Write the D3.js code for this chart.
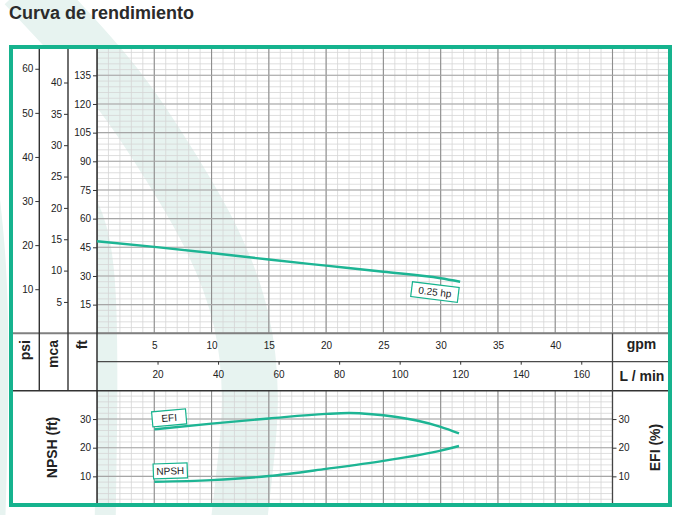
<!DOCTYPE html>
<html>
<head>
<meta charset="utf-8">
<script src="https://cdn.jsdelivr.net/npm/d3@7"></script>
<style>
  body { margin: 0; background: #fff; }
  text { font-family: "Liberation Sans", Arial, sans-serif; }
</style>
</head>
<body>
<div id="chart"></div>
<script>
// tick labels
var gpmTicks = [5, 10, 15, 20, 25, 30, 35, 40];
var lminTicks = [20, 40, 60, 80, 100, 120, 140, 160];
var psiTicks = [10, 20, 30, 40, 50, 60];
var mcaTicks = [5, 10, 15, 20, 25, 30, 35, 40];
var ftTicks = [15, 30, 45, 60, 75, 90, 105, 120, 135];
var lowTicks = [10, 20, 30];

// curves
var headGpm = [0, 5, 10, 15, 20, 25, 30, 31.7];
var headFt = [48.2, 45.2, 42.0, 38.6, 35.4, 32.2, 28.8, 27.0];
var efiGpm = [5, 10, 15, 20, 22, 24, 26, 28, 30, 31.6];
var efiPct = [26.4, 28.4, 30.2, 31.8, 32.1, 31.7, 30.8, 29.4, 27.3, 25];
var npshGpm = [5, 10, 15, 20, 25, 30, 31.6];
var npshFt = [8.1, 8.7, 10.1, 12.6, 15.4, 19.0, 20.6];

// labels on the curves
var labels = [
  {text: "0.25 hp", gpm: 29.5, val: 21.6, w: 47, angle: 7, panel: "top"},
  {text: "EFI", gpm: 6.3, val: 30.4, w: 34, angle: -5, panel: "low"},
  {text: "NPSH", gpm: 6.4, val: 11.9, w: 34, angle: -2, panel: "low"}
];

var W = 681, H = 515;
var green = "#16b38e";
var curveColor = "#1db594";

var svg = d3.select("#chart").append("svg")
    .attr("width", W)
    .attr("height", H);

// scales (psi / mca / ft share the same pixel span)
var x = d3.scaleLinear().domain([0, 45]).range([97, 612.5]);
var xL = d3.scaleLinear().domain([0, 45 * 3.785]).range([97, 612.5]);
var yFt = d3.scaleLinear().domain([0, 150]).range([333.3, 46.65]);
var yPsi = d3.scaleLinear().domain([0, 150 / 2.307]).range([333.3, 46.65]);
var yMca = d3.scaleLinear().domain([0, 150 / 3.281]).range([333.3, 46.65]);
var yLow = d3.scaleLinear().domain([0, 40]).range([505, 390.4]);

// watermark swooshes
var band = d3.line().curve(d3.curveBasis);
var wm = svg.append("g").attr("fill", "none").attr("stroke", "#e7f3f0");
wm.append("path")
    .attr("d", band([[25, -15], [75, 38], [125, 95], [170, 165], [215, 240], [245, 320], [252, 400], [246, 460], [238, 530]]))
    .attr("stroke-width", 56);
wm.append("path")
    .attr("d", band([[70, 170], [100, 225], [107, 300], [107, 420], [105, 530]]))
    .attr("stroke-width", 21);
wm.append("path")
    .attr("d", band([[-10, 160], [3, 260], [4, 400], [0, 530]]))
    .attr("stroke-width", 10);

// white cover for the axis columns
svg.append("rect").attr("x", 11).attr("y", 49).attr("width", 86).attr("height", 455).attr("fill", "#fff");

// clip paths
var defs = svg.append("defs");
defs.append("clipPath").attr("id", "clipTop").append("rect")
    .attr("x", 97).attr("y", 49).attr("width", 572).attr("height", 284.3);
defs.append("clipPath").attr("id", "clipLow").append("rect")
    .attr("x", 97).attr("y", 391).attr("width", 515.5).attr("height", 113);

// top grid
var gTop = svg.append("g").attr("clip-path", "url(#clipTop)");
gTop.selectAll(".vmin").data(d3.range(0, 51, 1)).enter().append("line")
    .attr("x1", x).attr("x2", x).attr("y1", 40).attr("y2", 340)
    .attr("stroke", "#d6d6d6").attr("stroke-width", 0.8);
gTop.selectAll(".hmin").data(d3.range(0, 151, 3)).enter().append("line")
    .attr("x1", 90).attr("x2", 680).attr("y1", yFt).attr("y2", yFt)
    .attr("stroke", "#d6d6d6").attr("stroke-width", 0.8);
gTop.selectAll(".vmaj").data(d3.range(0, 51, 5)).enter().append("line")
    .attr("x1", x).attr("x2", x).attr("y1", 40).attr("y2", 340)
    .attr("stroke", "#8e8e8e").attr("stroke-width", 1.1);
gTop.selectAll(".hmaj").data(d3.range(0, 151, 15)).enter().append("line")
    .attr("x1", 90).attr("x2", 680).attr("y1", yFt).attr("y2", yFt)
    .attr("stroke", "#a6a6a6").attr("stroke-width", 1.1);

// low grid
var gLow = svg.append("g").attr("clip-path", "url(#clipLow)");
gLow.selectAll(".vmin").data(d3.range(0, 46, 1)).enter().append("line")
    .attr("x1", x).attr("x2", x).attr("y1", 385).attr("y2", 510)
    .attr("stroke", "#d6d6d6").attr("stroke-width", 0.8);
gLow.selectAll(".hmin").data(d3.range(0, 41, 2)).enter().append("line")
    .attr("x1", 90).attr("x2", 620).attr("y1", yLow).attr("y2", yLow)
    .attr("stroke", "#d6d6d6").attr("stroke-width", 0.8);
gLow.selectAll(".vmaj").data(d3.range(0, 46, 5)).enter().append("line")
    .attr("x1", x).attr("x2", x).attr("y1", 385).attr("y2", 510)
    .attr("stroke", "#8e8e8e").attr("stroke-width", 1.1);
gLow.selectAll(".hmaj").data(d3.range(0, 41, 10)).enter().append("line")
    .attr("x1", 90).attr("x2", 620).attr("y1", yLow).attr("y2", yLow)
    .attr("stroke", "#a6a6a6").attr("stroke-width", 1.1);

// separator lines
var sep = svg.append("g");
sep.append("line").attr("x1", 11).attr("x2", 669).attr("y1", 333.3).attr("y2", 333.3)
    .attr("stroke", "#808080").attr("stroke-width", 2);
sep.append("line").attr("x1", 97).attr("x2", 669).attr("y1", 361.7).attr("y2", 361.7)
    .attr("stroke", "#4a4a4a").attr("stroke-width", 1.2);
sep.append("line").attr("x1", 11).attr("x2", 669).attr("y1", 390.7).attr("y2", 390.7)
    .attr("stroke", "#333").attr("stroke-width", 1.5);
sep.append("line").attr("x1", 39.3).attr("x2", 39.3).attr("y1", 49).attr("y2", 390.7)
    .attr("stroke", "#333").attr("stroke-width", 1.4);
sep.append("line").attr("x1", 68).attr("x2", 68).attr("y1", 49).attr("y2", 390.7)
    .attr("stroke", "#333").attr("stroke-width", 1.4);
sep.append("line").attr("x1", 97).attr("x2", 97).attr("y1", 49).attr("y2", 504)
    .attr("stroke", "#222").attr("stroke-width", 1.4);
sep.append("line").attr("x1", 612.5).attr("x2", 612.5).attr("y1", 333.3).attr("y2", 504)
    .attr("stroke", "#444").attr("stroke-width", 1.3);

// axes
function styleAxis(g) {
  g.select(".domain").remove();
  g.selectAll("line").attr("stroke", "#333");
  g.selectAll("text").attr("font-size", "10px").attr("fill", "#222")
    .style("font-family", "'Liberation Sans', Arial, sans-serif");
}

svg.append("g").attr("transform", "translate(39.3,0)")
    .call(d3.axisLeft(yPsi).tickValues(psiTicks).tickSize(4).tickPadding(2))
    .call(styleAxis);
svg.append("g").attr("transform", "translate(68,0)")
    .call(d3.axisLeft(yMca).tickValues(mcaTicks).tickSize(4).tickPadding(2))
    .call(styleAxis);
svg.append("g").attr("transform", "translate(97,0)")
    .call(d3.axisLeft(yFt).tickValues(ftTicks).tickSize(4).tickPadding(2))
    .call(styleAxis);
svg.append("g").attr("transform", "translate(0,333.3)")
    .call(d3.axisBottom(x).tickValues(gpmTicks).tickSize(0).tickPadding(9))
    .call(styleAxis);
svg.append("g").attr("transform", "translate(0,361.7)")
    .call(d3.axisBottom(xL).tickValues(lminTicks).tickSize(3).tickPadding(6))
    .call(styleAxis);
svg.append("g").attr("transform", "translate(97,0)")
    .call(d3.axisLeft(yLow).tickValues(lowTicks).tickSize(4).tickPadding(2))
    .call(styleAxis);
svg.append("g").attr("transform", "translate(612.5,0)")
    .call(d3.axisRight(yLow).tickValues(lowTicks).tickSize(4).tickPadding(2))
    .call(styleAxis);

// axis titles
function vTitle(txt, cx, cy, anchor) {
  svg.append("text")
      .attr("transform", "translate(" + cx + "," + cy + ") rotate(-90)")
      .attr("text-anchor", anchor)
      .attr("dominant-baseline", "central")
      .attr("font-size", "14px")
      .attr("font-weight", "bold")
      .attr("fill", "#222")
      .text(txt);
}
vTitle("psi", 25, 340, "end");
vTitle("mca", 52.5, 340, "end");
vTitle("ft", 82, 340, "end");
vTitle("NPSH (ft)", 51.5, 447.5, "middle");
vTitle("EFI (%)", 655, 447.5, "middle");

svg.append("text").attr("x", 641.5).attr("y", 349)
    .attr("text-anchor", "middle").attr("font-size", "14px").attr("font-weight", "bold")
    .attr("fill", "#222").text("gpm");
svg.append("text").attr("x", 642).attr("y", 381)
    .attr("text-anchor", "middle").attr("font-size", "14px").attr("font-weight", "bold")
    .attr("fill", "#222").text("L / min");

// curves
var headLine = d3.line().curve(d3.curveMonotoneX)
    .x(function(d, i) { return x(headGpm[i]); })
    .y(function(d) { return yFt(d); });
var lowLine = function(xs) {
  return d3.line().curve(d3.curveMonotoneX)
    .x(function(d, i) { return x(xs[i]); })
    .y(function(d) { return yLow(d); });
};

svg.append("path").attr("d", headLine(headFt))
    .attr("fill", "none").attr("stroke", curveColor).attr("stroke-width", 2.4);
svg.append("path").attr("d", lowLine(efiGpm)(efiPct))
    .attr("fill", "none").attr("stroke", curveColor).attr("stroke-width", 2.4);
svg.append("path").attr("d", lowLine(npshGpm)(npshFt))
    .attr("fill", "none").attr("stroke", curveColor).attr("stroke-width", 2.4);

// curve labels
labels.forEach(function(l) {
  var cx = x(l.gpm);
  var cy = l.panel == "top" ? yFt(l.val) : yLow(l.val);
  var g = svg.append("g")
      .attr("transform", "translate(" + cx + "," + cy + ") rotate(" + l.angle + ")");
  g.append("rect")
      .attr("x", -l.w / 2).attr("y", -7.5).attr("width", l.w).attr("height", 15)
      .attr("fill", "#fff").attr("stroke", green).attr("stroke-width", 1.2);
  g.append("text")
      .attr("text-anchor", "middle").attr("dominant-baseline", "central")
      .attr("font-size", "10px").attr("fill", "#222")
      .text(l.text);
});

// frame
svg.append("rect").attr("x", 11).attr("y", 47).attr("width", 659).attr("height", 458)
    .attr("fill", "none").attr("stroke", green).attr("stroke-width", 4);

// title
svg.append("text").attr("x", 9).attr("y", 18.5)
    .attr("font-size", "18px").attr("font-weight", "bold").attr("fill", "#2b2b2b")
    .text("Curva de rendimiento");
</script>
</body>
</html>
